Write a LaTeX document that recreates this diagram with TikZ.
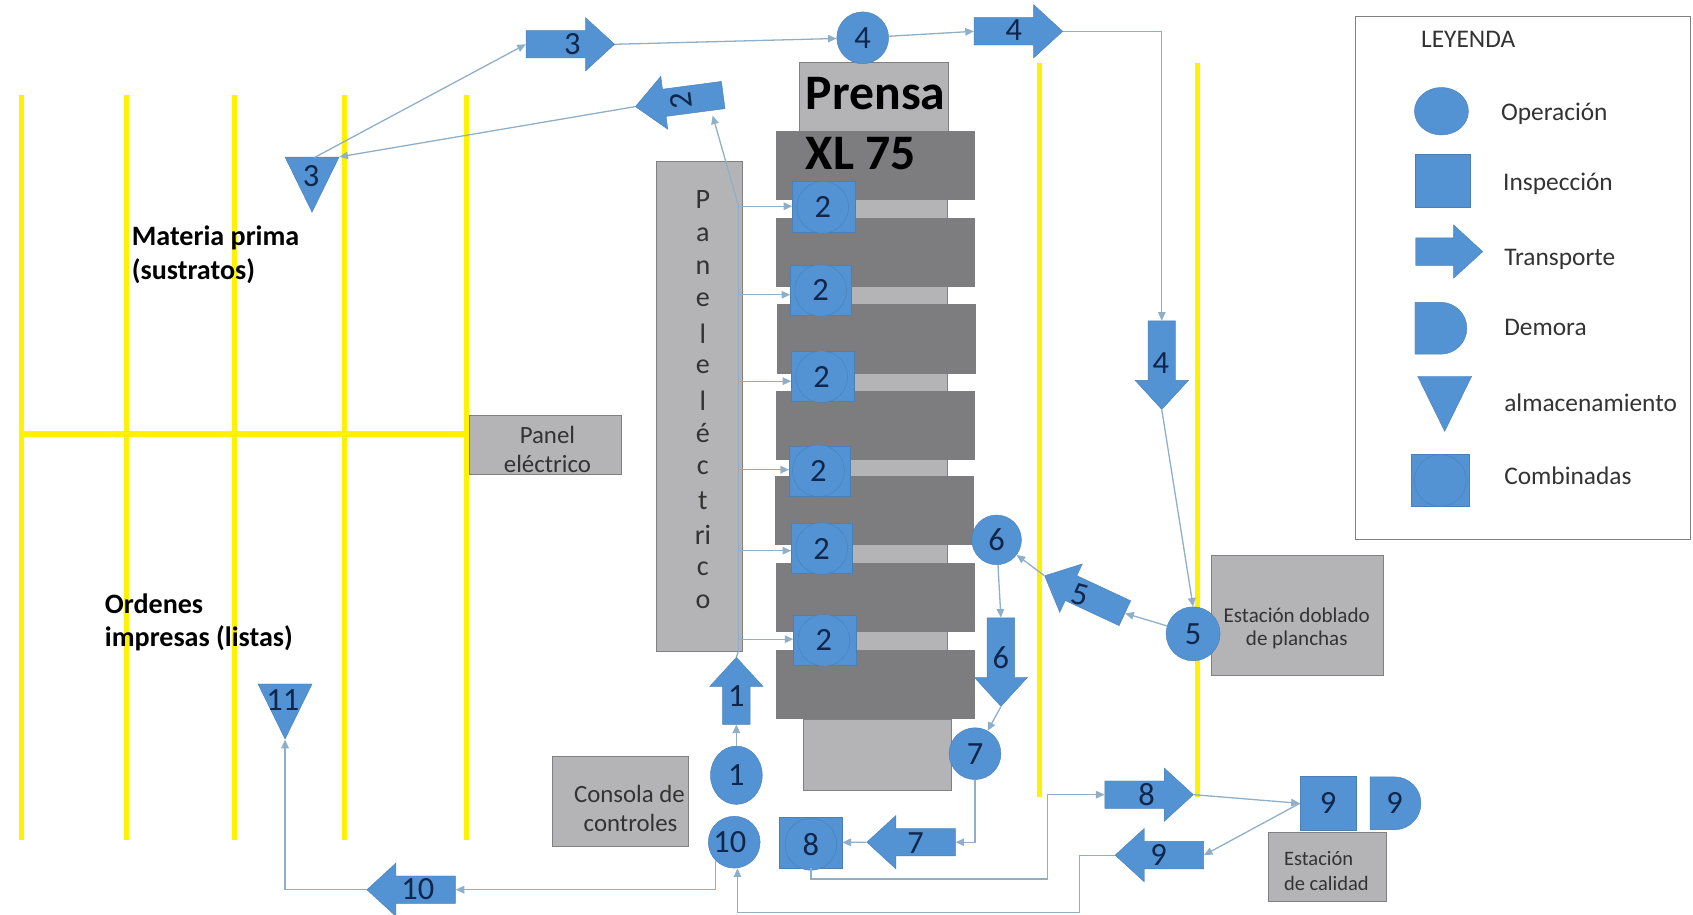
\documentclass[tikz,border=0pt]{standalone}
\usepackage{fontspec}
\setmainfont{Carlito}
\usetikzlibrary{arrows.meta,shapes.arrows,shapes.geometric,shapes.misc}
\definecolor{azul}{HTML}{5393D3}
\definecolor{azulborde}{HTML}{4A80B5}
\definecolor{gris}{HTML}{B4B4B6}
\definecolor{grisoscuro}{HTML}{7D7D7F}
\definecolor{flecha}{HTML}{8FAFC8}
\definecolor{tinta}{HTML}{10264A}
\tikzset{
	via/.style={line width=5pt,yellow},
	flujo/.style={line width=1.2pt,flecha,-{Triangle[length=8pt,width=7pt]}},
	linea/.style={line width=1.2pt,flecha},
	caja/.style={draw=gray,fill=gris,inner sep=0pt},
	texto/.style={inner sep=0pt,text=black!80,font=\fontsize{23}{23}\selectfont},
	barra/.style={draw=none,fill=grisoscuro,inner sep=0pt},
	cuadro/.style={rectangle,draw=azulborde,fill=azul,inner sep=0pt,text=tinta,font=\fontsize{30}{30}\selectfont},
	oper/.style={circle,draw=azulborde,fill=azul,inner sep=0pt,minimum size=48pt,text=tinta,font=\fontsize{30}{30}\selectfont},
	trans/.style={single arrow,draw=azulborde,fill=azul,inner sep=0pt,text width=25pt,text height=25pt,text depth=0pt,minimum height=82pt,single arrow head extend=12pt,single arrow tip angle=85,anchor=tail},
	alma/.style={isosceles triangle,isosceles triangle stretches,shape border rotate=-90,draw=azulborde,fill=azul,inner sep=0pt,minimum width=50pt,minimum height=51pt,anchor=apex},
	demora/.style={rounded rectangle,rounded rectangle left arc=none,draw=azulborde,fill=azul,inner sep=0pt,minimum width=46pt,minimum height=49pt,text=tinta,font=\fontsize{30}{30}\selectfont},
	leyenda/.style={anchor=west,inner sep=0pt,text=black!80,font=\fontsize{23.5}{24}\selectfont},
	negrita/.style={anchor=west,inner sep=0pt,text=black,font=\bfseries\fontsize{26}{26}\selectfont},
	numero/.style={inner sep=0pt,text=tinta,font=\fontsize{30}{30}\selectfont},
	letra/.style={inner sep=0pt,text=black!80,font=\fontsize{26}{26}\selectfont}
}
\begin{document}
\begin{tikzpicture}[x=1pt,y=-1pt]
	\useasboundingbox (0,0) rectangle (1568,847);
	\draw[via] (20,88) -- (20,778);
	\draw[via] (117,88) -- (117,778);
	\draw[via] (217,88) -- (217,778);
	\draw[via] (319,88) -- (319,778);
	\draw[via] (432,88) -- (432,778);
	\draw[via] (20,402) -- (432,402);
	\draw[via] (963,58) -- (963,738);
	\draw[via] (1109,58) -- (1109,738);
	\node[negrita] (materia) at (122,220) {Materia prima};
	\node[negrita] (sustratos) at (122,251) {(sustratos)};
	\node[negrita] (ordenes) at (97,559) {Ordenes};
	\node[negrita] (impresas) at (97,591) {impresas (listas)};
	\node[caja,minimum width=138pt,minimum height=64pt] (prensa) at (809,90) {};
	\node[caja,minimum width=132pt,minimum height=418pt] (cuerpo) at (811,393) {};
	\node[caja,minimum width=137pt,minimum height=66pt] (base) at (812.5,699) {};
	\node[barra,minimum width=184pt,minimum height=64pt] (barra1) at (811,153) {};
	\node[barra,minimum width=184pt,minimum height=64pt] (barra2) at (811,234) {};
	\node[barra,minimum width=184pt,minimum height=64pt] (barra3) at (812,314) {};
	\node[barra,minimum width=184pt,minimum height=64pt] (barra4) at (811,394) {};
	\node[barra,minimum width=184pt,minimum height=64pt] (barra5) at (810,473) {};
	\node[barra,minimum width=184pt,minimum height=64pt] (barra6) at (811,553) {};
	\node[barra,minimum width=184pt,minimum height=64pt] (barra7) at (811,634) {};
	\node[inner sep=0pt,font=\bfseries\fontsize{46}{46}\selectfont] (titulo1) at (811,87) {Prensa};
	\node[inner sep=0pt,anchor=west,font=\bfseries\fontsize{46}{46}\selectfont] (titulo2) at (746,142) {XL 75};
	\node[caja,minimum width=79pt,minimum height=454pt] (panelv) at (647.5,376) {};
	\node[letra] (l1) at (651,185) {P};
	\node[letra] (l2) at (651,217) {a};
	\node[letra] (l3) at (651,248) {n};
	\node[letra] (l4) at (651,278) {e};
	\node[letra] (l5) at (651,309) {l};
	\node[letra] (l6) at (651,340) {e};
	\node[letra] (l7) at (651,371) {l};
	\node[letra] (l8) at (651,401) {é};
	\node[letra] (l9) at (651,433) {c};
	\node[letra] (l10) at (651,464) {t};
	\node[letra] (l11) at (651,495) {ri};
	\node[letra] (l12) at (651,527) {c};
	\node[letra] (l13) at (651,557) {o};
	\node[caja,minimum width=140pt,minimum height=54pt] (panelh) at (505,412) {};
	\node[texto] (panelh1) at (507,403) {Panel};
	\node[texto] (panelh2) at (507,430) {eléctrico};
	\node[caja,minimum width=126pt,minimum height=84pt] (consola) at (574,742) {};
	\node[texto] (consola1) at (583,735) {Consola de};
	\node[texto] (consola2) at (584,762) {controles};
	\node[caja,minimum width=159pt,minimum height=111pt] (doblado) at (1201.5,569.5) {};
	\node[texto,font=\fontsize{19.5}{19.5}\selectfont] (doblado1) at (1201,570) {Estación doblado};
	\node[texto,font=\fontsize{19.5}{19.5}\selectfont] (doblado2) at (1201,593) {de planchas};
	\node[caja,minimum width=109pt,minimum height=64pt] (calidad) at (1229.5,803) {};
	\node[texto,anchor=west,font=\fontsize{19}{19}\selectfont] (calidad1) at (1189,795) {Estación};
	\node[texto,anchor=west,font=\fontsize{19}{19}\selectfont] (calidad2) at (1189,818) {de calidad};
	\node[cuadro,minimum width=58pt,minimum height=47pt] (sq1) at (763,191.5) {};
	\node[oper] (comb1) at (762,192) {2};
	\node[cuadro,minimum width=56pt,minimum height=46pt] (sq2) at (760,269) {};
	\node[oper] (comb2) at (760,269) {2};
	\node[cuadro,minimum width=58pt,minimum height=47pt] (sq3) at (762,348.5) {};
	\node[oper] (comb3) at (761,349) {2};
	\node[cuadro,minimum width=56pt,minimum height=47pt] (sq4) at (759,436.5) {};
	\node[oper] (comb4) at (758,436) {2};
	\node[cuadro,minimum width=56pt,minimum height=46pt] (sq5) at (761,508) {};
	\node[oper] (comb5) at (761,508) {2};
	\node[cuadro,minimum width=58pt,minimum height=46pt] (sq6) at (764,593) {};
	\node[oper] (comb6) at (763,593) {2};
	\node[cuadro,minimum width=58pt,minimum height=47pt] (sq8) at (751,780.5) {};
	\node[oper] (comb8) at (751,782) {8};
	\node[oper] (op4) at (799,35) {4};
	\node[oper,ellipse,minimum width=48pt,minimum height=54pt] (op1) at (682,718) {1};
	\node[oper] (op10) at (680,780) {};
	\node[numero] (op10n) at (676,780) {10};
	\node[oper] (op7) at (903,698) {7};
	\node[oper,minimum size=46pt] (op6) at (923,500) {6};
	\node[oper,minimum size=50pt] (op5) at (1105,587) {5};
	\node[trans] (tr3) at (487,41) {};
	\node[numero] (tr3n) at (530,41) {3};
	\node[trans] (tr4) at (902,29) {};
	\node[numero] (tr4n) at (939,28) {4};
	\node[trans,shape border rotate=270] (tr4b) at (1076,297) {};
	\node[numero] (tr4bn) at (1075,336) {4};
	\node[trans,shape border rotate=90,minimum height=62pt] (tr1) at (682,671) {};
	\node[numero] (tr1n) at (682,645) {1};
	\node[trans,shape border rotate=180,rotate=7.5] (tr2) at (670,88) {};
	\node[numero,rotate=97] (tr2n) at (631,93.5) {2};
	\node[trans,shape border rotate=180,rotate=-25] (tr5) at (1042,568) {};
	\node[numero,rotate=-15] (tr5n) at (1000,551) {5};
	\node[trans,shape border rotate=270] (tr6) at (927,572) {};
	\node[numero] (tr6n) at (927,609) {6};
	\node[trans,shape border rotate=180] (tr7) at (885,780) {};
	\node[numero] (tr7n) at (848,781) {7};
	\node[trans] (tr8) at (1023,736) {};
	\node[numero] (tr8n) at (1062,736) {8};
	\node[trans,shape border rotate=180] (tr9) at (1115,792) {};
	\node[numero] (tr9n) at (1073,792) {9};
	\node[trans,shape border rotate=180] (tr10) at (422,824) {};
	\node[numero] (tr10n) at (387,823) {10};
	\node[alma] (alm3) at (289,197) {};
	\node[numero] (alm3n) at (288,163) {3};
	\node[alma] (alm11) at (264,685) {};
	\node[numero] (alm11n) at (262,648) {11};
	\node[cuadro,minimum width=52pt,minimum height=50pt] (insp9) at (1230,744) {9};
	\node[demora] (dem9) at (1291.5,744) {9};
	\coordinate (bus0) at (684,603);
	\coordinate (bus1) at (684,191);
	\coordinate (bus2) at (684,273);
	\coordinate (bus3) at (684,353);
	\coordinate (bus4) at (684,435);
	\coordinate (bus5) at (684,510);
	\coordinate (bus6) at (684,592);
	\coordinate (fin2) at (660,107);
	\coordinate (alm3sup) at (291,146);
	\coordinate (giro4) at (1076,29);
	\coordinate (giro7) at (903,780);
	\coordinate (giro8a) at (970,814);
	\coordinate (giro8b) at (970,736);
	\coordinate (giro9a) at (1000,792);
	\coordinate (giro9b) at (1000,845);
	\coordinate (giro9c) at (683,845);
	\coordinate (giro10) at (662,824);
	\coordinate (giro11) at (264,824);
	\draw[flujo] (alm3sup) -- (tr3.tail);
	\draw[flujo] (tr2.tip) -- (alm3.left corner);
	\draw[flujo] (tr3.tip) -- (op4);
	\draw[flujo] (op4) -- (tr4.tail);
	\draw[flujo] (tr4.tip) -- (giro4) -- (tr4b.tail);
	\draw[flujo] (tr4b.tip) -- (op5.north);
	\draw[flujo] (op5) -- (tr5.tail);
	\draw[flujo] (tr5.tip) -- (op6);
	\draw[flujo] (op6) -- (tr6.tail);
	\draw[flujo] (tr6.tip) -- (op7);
	\draw[flujo] (op7.south) -- (giro7) -- (tr7.tail);
	\draw[flujo] (tr7.tip) -- (sq8);
	\draw[flujo] (sq8.south) |- (giro8a) -- (giro8b) -- (tr8.tail);
	\draw[flujo] (tr8.tip) -- (insp9.west);
	\draw[flujo] (insp9.west) -- (tr9.tail);
	\draw[flujo] (tr9.tip) -- (giro9a) -- (giro9b) -- (giro9c) -- (giro9c |- op10.south);
	\draw[flujo] (op10.south west) |- (giro10) -- (tr10.tail);
	\draw[flujo] (tr10.tip) -- (giro11) -- (alm11.apex);
	\draw[flujo] (op1) -- (tr1.tail);
	\draw[linea] (tr1.tip) -- (bus0) -- (bus1);
	\draw[flujo] (bus1) -- (bus1 -| sq1.west);
	\draw[flujo] (bus2) -- (bus2 -| sq2.west);
	\draw[flujo] (bus3) -- (bus3 -| sq3.west);
	\draw[flujo] (bus4) -- (bus4 -| sq4.west);
	\draw[flujo] (bus5) -- (bus5 -| sq5.west);
	\draw[flujo] (bus6) -- (bus6 -| sq6.west);
	\draw[flujo] (bus1) -- (fin2);
	\node[draw=gray,fill=white,line width=1pt,minimum width=311pt,minimum height=485pt,inner sep=0pt] (leyendabox) at (1410.5,257.5) {};
	\node[leyenda] (leytitulo) at (1316,36) {LEYENDA};
	\node[oper,ellipse,minimum width=50pt,minimum height=44pt] (leyop) at (1335,103) {};
	\node[leyenda] (leyop1) at (1390,105) {Operación};
	\node[cuadro,minimum width=51pt,minimum height=49pt] (leyins) at (1336.5,167.5) {};
	\node[leyenda] (leyins1) at (1392,170) {Inspección};
	\node[trans,minimum height=62pt] (leytr) at (1311,233) {};
	\node[leyenda] (leytr1) at (1393,240) {Transporte};
	\node[demora,minimum width=47pt,minimum height=48pt] (leyde) at (1334.5,304) {};
	\node[leyenda] (leyde1) at (1393,303) {Demora};
	\node[alma] (leyal) at (1338,400) {};
	\node[leyenda] (leyal1) at (1393,373) {almacenamiento};
	\node[cuadro,minimum width=54pt,minimum height=48pt] (leyco) at (1334,445) {};
	\node[oper] (leyco2) at (1334,445) {};
	\node[leyenda] (leyco1) at (1393,441) {Combinadas};
\end{tikzpicture}
\end{document}
